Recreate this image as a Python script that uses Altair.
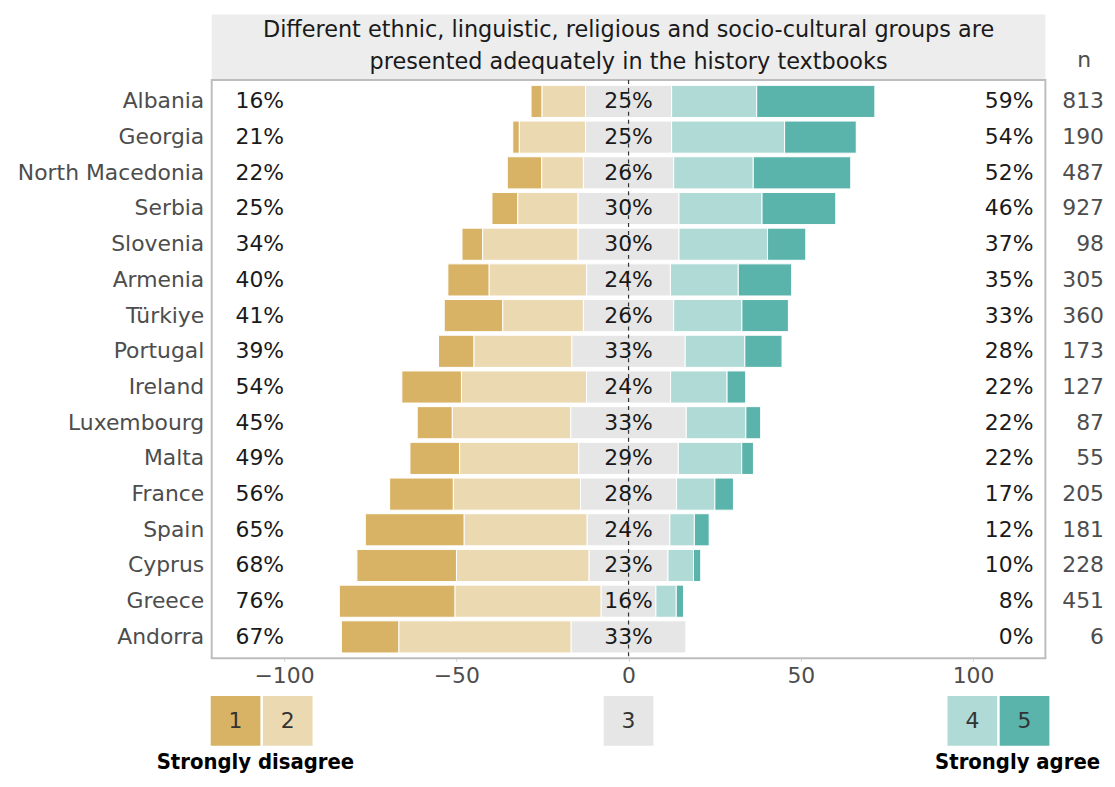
import altair as alt
import pandas as pd

countries = ["Albania", "Georgia", "North Macedonia", "Serbia", "Slovenia", "Armenia",
             "Türkiye", "Portugal", "Ireland", "Luxembourg", "Malta", "France", "Spain",
             "Cyprus", "Greece", "Andorra"]
p1 = [3.2, 1.9, 10.0, 7.5, 6.0, 12.0, 17.0, 10.3, 17.3, 10.2, 14.4, 18.5, 28.7, 28.9, 33.6, 16.7]
p2 = [12.6, 19.2, 12.1, 17.5, 27.7, 28.3, 23.4, 28.4, 36.3, 34.4, 34.6, 36.9, 35.7, 38.5, 42.4, 50.0]
p3 = [25.0, 25.0, 26.2, 29.3, 29.3, 24.3, 26.2, 32.9, 24.4, 33.5, 28.9, 27.9, 24.0, 22.9, 15.9, 33.3]
p4 = [24.7, 32.8, 23.1, 24.1, 25.7, 19.7, 19.8, 17.3, 16.4, 17.3, 18.4, 11.1, 7.1, 7.4, 5.9, 0.0]
p5 = [34.3, 20.8, 28.3, 21.4, 11.1, 15.5, 13.5, 10.8, 5.4, 4.3, 3.4, 5.4, 4.3, 2.1, 2.1, 0.0]
left_labels = ["16%", "21%", "22%", "25%", "34%", "40%", "41%", "39%", "54%", "45%", "49%",
               "56%", "65%", "68%", "76%", "67%"]
mid_labels = ["25%", "25%", "26%", "30%", "30%", "24%", "26%", "33%", "24%", "33%", "29%",
              "28%", "24%", "23%", "16%", "33%"]
right_labels = ["59%", "54%", "52%", "46%", "37%", "35%", "33%", "28%", "22%", "22%", "22%",
                "17%", "12%", "10%", "8%", "0%"]
n_values = [813, 190, 487, 927, 98, 305, 360, 173, 127, 87, 55, 205, 181, 228, 451, 6]
levels = ["1", "2", "3", "4", "5"]
colors = ["#D9B365", "#EBD9B1", "#E6E6E6", "#AFDAD6", "#5AB4AB"]
title_lines = ["Different ethnic, linguistic, religious and socio-cultural groups are",
               "presented adequately in the history textbooks"]
x_ticks = [-100, -50, 0, 50, 100]

FONT = "DejaVu Sans"
BOLD_FONT = "Liberation Sans Narrow, DejaVu Sans Condensed, Liberation Sans"
FS = 22
W, H = 839, 582
XMIN, XMAX = -121, 121
upx = (XMAX - XMIN) / W  # data units per pixel

# ---- bar segments (diverging, neutral centred on 0)
rows = []
for i, c in enumerate(countries):
    vals = [p1[i], p2[i], p3[i], p4[i], p5[i]]
    start = -(p1[i] + p2[i] + p3[i] / 2)
    for lev, v in zip(levels, vals):
        if v > 0:
            rows.append({"country": c, "level": lev, "x0": start, "x1": start + v})
        start += v
bars_df = pd.DataFrame(rows)

lab_df = pd.DataFrame({"country": countries, "left": left_labels, "mid": mid_labels,
                       "right": right_labels, "n": [str(v) for v in n_values]})

color_scale = alt.Scale(domain=levels, range=colors)
y_enc = alt.Y("country:N", sort=countries, title=None,
              scale=alt.Scale(paddingInner=0.1, paddingOuter=0.15),
              axis=alt.Axis(labelFont=FONT, labelFontSize=FS, labelColor="#4D4D4D",
                            labelPadding=8, labelLimit=400, ticks=False, domain=False,
                            grid=False))

bars = alt.Chart(bars_df).mark_bar(stroke="white", strokeWidth=1).encode(
    x=alt.X("x0:Q", title=None,
            scale=alt.Scale(domain=[XMIN, XMAX], nice=False, zero=False),
            axis=alt.Axis(values=x_ticks, labelFont=FONT, labelFontSize=FS,
                          labelColor="#4D4D4D", ticks=True, tickSize=3,
                          tickColor="#D0D0D0", labelPadding=4, domain=False, grid=False)),
    x2="x1:Q",
    y=y_enc,
    color=alt.Color("level:N", scale=color_scale, legend=None),
)

zero = alt.Chart(pd.DataFrame({"z": [0]})).mark_rule(
    color="#333333", strokeDash=[4, 4], strokeWidth=1.2).encode(x="z:Q")

txt_kw = dict(font=FONT, fontSize=FS, baseline="middle")
left_txt = alt.Chart(lab_df).mark_text(align="left", color="#1A1A1A", **txt_kw).encode(
    x=alt.value(24), y=alt.Y("country:N", sort=countries), text="left:N")
mid_txt = alt.Chart(lab_df).mark_text(align="center", color="#1A1A1A", **txt_kw).encode(
    x=alt.datum(0), y=alt.Y("country:N", sort=countries), text="mid:N")
right_txt = alt.Chart(lab_df).mark_text(align="right", color="#1A1A1A", **txt_kw).encode(
    x=alt.value(W - 12), y=alt.Y("country:N", sort=countries), text="right:N")
n_txt = alt.Chart(lab_df).mark_text(align="right", color="#4D4D4D", **txt_kw).encode(
    x=alt.value(W + 59), y=alt.Y("country:N", sort=countries), text="n:N")

one = pd.DataFrame({"a": [0]})
n_head = alt.Chart(one).mark_text(align="center", color="#4D4D4D", text="n", **txt_kw).encode(
    x=alt.value(W + 39), y=alt.value(-20))

strip = alt.Chart(one).mark_rect(color="#EDEDED").encode(
    x=alt.value(0), x2=alt.value(W), y=alt.value(-66), y2=alt.value(-1))
title = alt.Chart(one).mark_text(text=title_lines, lineHeight=32, align="center",
                                 color="#1A1A1A", font=FONT, fontSize=22.5,
                                 baseline="middle").encode(
    x=alt.value(W / 2), y=alt.value(-50))

# ---- custom legend below the axis
box = 50 * upx
gap = 2.5 * upx
lx0 = [XMIN - 1 * upx, XMIN - 1 * upx + box + gap, -box / 2,
       XMAX + 4 * upx - 2 * box - gap, XMAX + 4 * upx - box]
leg_df = pd.DataFrame({"level": levels, "x0": lx0, "x1": [v + box for v in lx0],
                       "xc": [v + box / 2 for v in lx0]})
leg_boxes = alt.Chart(leg_df).mark_rect().encode(
    x="x0:Q", x2="x1:Q", y=alt.value(620), y2=alt.value(670),
    color=alt.Color("level:N", scale=color_scale, legend=None))
leg_txt = alt.Chart(leg_df).mark_text(align="center", color="#333333", font=FONT,
                                      fontSize=22, baseline="middle").encode(
    x="xc:Q", y=alt.value(645), text="level:N")

ends_df = pd.DataFrame({"label": ["Strongly disagree", "Strongly agree"],
                        "xc": [XMIN + 44 * upx, XMAX - 28 * upx]})
ends = alt.Chart(ends_df).mark_text(align="center", baseline="alphabetic", font=BOLD_FONT,
                                    fontSize=22, fontWeight="bold", color="#000000").encode(
    x="xc:Q", y=alt.value(693), text="label:N")

chart = alt.layer(strip, title, n_head, bars, zero, left_txt, mid_txt, right_txt, n_txt,
                  leg_boxes, leg_txt, ends).properties(
    width=W, height=H,
    padding={"left": 205, "top": 70, "right": 62, "bottom": 119},
    autosize=alt.AutoSizeParams(type="none"),
    background="white",
).configure_view(stroke="#BDBDBD", strokeWidth=2)

chart.save("out.html", embed_options={"renderer": "svg", "actions": False})
